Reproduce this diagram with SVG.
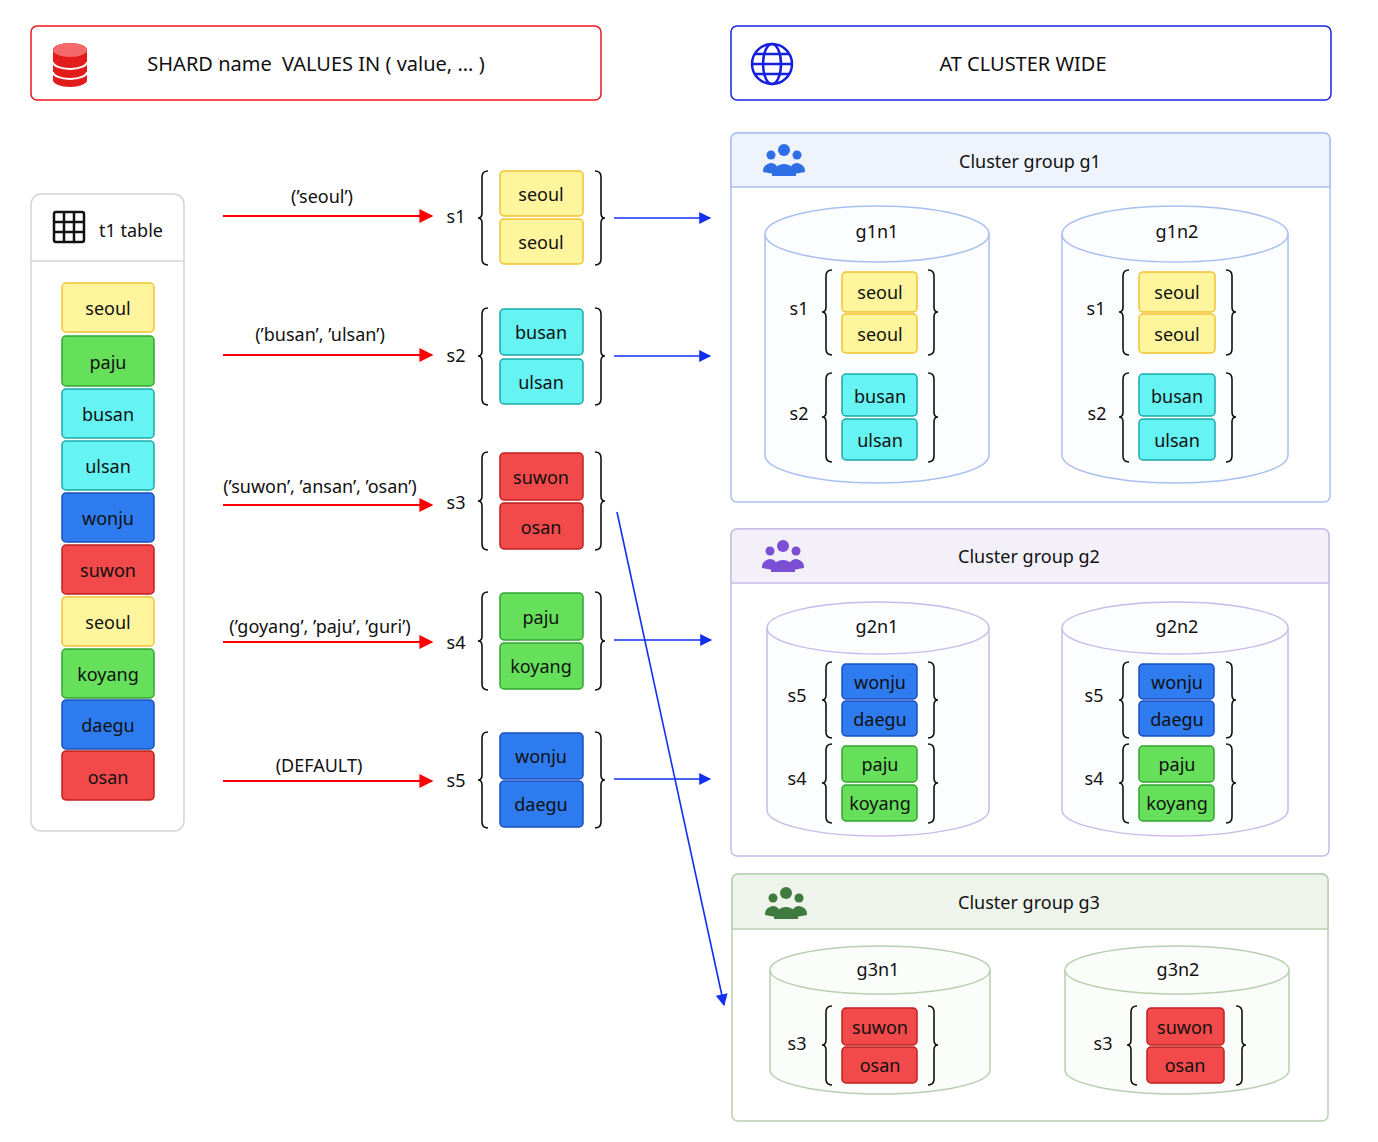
<svg xmlns="http://www.w3.org/2000/svg" width="1378" height="1142" viewBox="0 0 1378 1142">
<style>
text{font-family:"Noto Sans","DejaVu Sans",sans-serif;fill:#111;font-size:18px;text-anchor:middle;dominant-baseline:central}
.h{font-size:20px}
.y{fill:#fff59d;stroke:#f2c230;stroke-width:1.5}
.g{fill:#66e05a;stroke:#2fa52f;stroke-width:1.5}
.c{fill:#66f3f3;stroke:#1aa9a9;stroke-width:1.5}
.b{fill:#2f7cf0;stroke:#1a4fc0;stroke-width:1.5}
.r{fill:#f24a4a;stroke:#c01f1f;stroke-width:1.5}
.br{fill:none;stroke:#111;stroke-width:1.6}
.red{stroke:#f00;stroke-width:2;fill:none}
.blue{stroke:#1330f0;stroke-width:1.6;fill:none}
.cyl{fill:#fcfdff;stroke:#a8c0f0;stroke-width:1.5}
</style>
<defs>
<marker id="ab" viewBox="0 0 10 10" refX="9" refY="5" markerWidth="14" markerHeight="12" orient="auto" markerUnits="userSpaceOnUse"><path d="M0,0L10,5L0,10Z" fill="#1330f0"/></marker>
<marker id="arr" viewBox="0 0 10 10" refX="9" refY="5" markerWidth="16" markerHeight="14" orient="auto" markerUnits="userSpaceOnUse"><path d="M0,0L10,5L0,10Z" fill="#f00"/></marker>
</defs>
<rect width="1378" height="1142" fill="#fff"/>

<g id="header-shard">
<rect x="31" y="26" width="570" height="74" rx="6" fill="#fff" stroke="#f0141e" stroke-width="1.5"/>
<g fill="#e21b1b"><path d="M53,50 a17,7 0 0 1 34,0 v30 a17,7 0 0 1 -34,0Z"/></g>
<path d="M53,62 a17,7 0 0 0 34,0 M53,72 a17,7 0 0 0 34,0" stroke="#fff" stroke-width="2" fill="none"/>
<ellipse cx="70" cy="50" rx="17" ry="7" fill="#f46a6a"/>
<text class="h" x="316" y="63">SHARD name&#160; VALUES IN ( value, ... )</text>
</g>
<g id="header-cluster">
<rect x="731" y="26" width="600" height="74" rx="6" fill="#fff" stroke="#1a22e0" stroke-width="1.5"/>
<g fill="none" stroke="#1320e0" stroke-width="2.5"><circle cx="772" cy="64" r="20"/><ellipse cx="772" cy="64" rx="9" ry="20"/><path d="M752,64H792M755,54H789M755,74H789"/></g>
<text class="h" x="1023" y="63">AT CLUSTER WIDE</text>
</g>

<g id="t1-table">
<rect x="31" y="194" width="153" height="637" rx="10" fill="#fff" stroke="#d4d4d4" stroke-width="1.5"/>
<line x1="31" y1="261" x2="184" y2="261" stroke="#d4d4d4" stroke-width="1.5"/>
<g fill="none" stroke="#111" stroke-width="2.5"><rect x="54" y="212" width="30" height="30" rx="2"/><path d="M54,222H84M54,232H84M64,212V242M74,212V242"/></g>
<text x="131" y="230">t1 table</text>
<rect class="y" x="62" y="283" width="92" height="49" rx="4"/><text x="108" y="308">seoul</text>
<rect class="g" x="62" y="336" width="92" height="50" rx="4"/><text x="108" y="362">paju</text>
<rect class="c" x="62" y="389" width="92" height="49" rx="4"/><text x="108" y="414">busan</text>
<rect class="c" x="62" y="441" width="92" height="49" rx="4"/><text x="108" y="466">ulsan</text>
<rect class="b" x="62" y="493" width="92" height="49" rx="4"/><text x="108" y="518">wonju</text>
<rect class="r" x="62" y="545" width="92" height="49" rx="4"/><text x="108" y="570">suwon</text>
<rect class="y" x="62" y="597" width="92" height="49" rx="4"/><text x="108" y="622">seoul</text>
<rect class="g" x="62" y="649" width="92" height="49" rx="4"/><text x="108" y="674">koyang</text>
<rect class="b" x="62" y="700" width="92" height="49" rx="4"/><text x="108" y="725">daegu</text>
<rect class="r" x="62" y="751" width="92" height="49" rx="4"/><text x="108" y="777">osan</text>
</g>

<g id="shards">
<text x="456" y="216">s1</text>
<path class="br" d="M488,171 Q482,171 482,177 V213 Q482,218 478,218 Q482,218 482,223 V259 Q482,265 488,265"/>
<path class="br" d="M595,171 Q601,171 601,177 V213 Q601,218 605,218 Q601,218 601,223 V259 Q601,265 595,265"/>
<rect class="y" x="500" y="171" width="83" height="45" rx="4"/><text x="541" y="194">seoul</text>
<rect class="y" x="500" y="219" width="83" height="45" rx="4"/><text x="541" y="242">seoul</text>

<text x="456" y="355">s2</text>
<path class="br" d="M488,308 Q482,308 482,314 V351 Q482,356 478,356 Q482,356 482,361 V399 Q482,405 488,405"/>
<path class="br" d="M595,308 Q601,308 601,314 V351 Q601,356 605,356 Q601,356 601,361 V399 Q601,405 595,405"/>
<rect class="c" x="500" y="309" width="83" height="46" rx="4"/><text x="541" y="332">busan</text>
<rect class="c" x="500" y="359" width="83" height="45" rx="4"/><text x="541" y="382">ulsan</text>

<text x="456" y="502">s3</text>
<path class="br" d="M488,452 Q482,452 482,458 V496 Q482,501 478,501 Q482,501 482,506 V544 Q482,550 488,550"/>
<path class="br" d="M595,452 Q601,452 601,458 V496 Q601,501 605,501 Q601,501 601,506 V544 Q601,550 595,550"/>
<rect class="r" x="500" y="453" width="83" height="47" rx="4"/><text x="541" y="477">suwon</text>
<rect class="r" x="500" y="503" width="83" height="46" rx="4"/><text x="541" y="527">osan</text>

<text x="456" y="642">s4</text>
<path class="br" d="M488,592 Q482,592 482,598 V636 Q482,641 478,641 Q482,641 482,646 V684 Q482,690 488,690"/>
<path class="br" d="M595,592 Q601,592 601,598 V636 Q601,641 605,641 Q601,641 601,646 V684 Q601,690 595,690"/>
<rect class="g" x="500" y="593" width="83" height="47" rx="4"/><text x="541" y="617">paju</text>
<rect class="g" x="500" y="643" width="83" height="46" rx="4"/><text x="541" y="666">koyang</text>

<text x="456" y="780">s5</text>
<path class="br" d="M488,732 Q482,732 482,738 V775 Q482,780 478,780 Q482,780 482,785 V822 Q482,828 488,828"/>
<path class="br" d="M595,732 Q601,732 601,738 V775 Q601,780 605,780 Q601,780 601,785 V822 Q601,828 595,828"/>
<rect class="b" x="500" y="733" width="83" height="46" rx="4"/><text x="541" y="756">wonju</text>
<rect class="b" x="500" y="781" width="83" height="46" rx="4"/><text x="541" y="804">daegu</text>
</g>

<g id="connectors">
<line class="red" x1="223" y1="216" x2="432" y2="216" marker-end="url(#arr)"/>
<line class="red" x1="223" y1="355" x2="432" y2="355" marker-end="url(#arr)"/>
<line class="red" x1="223" y1="505" x2="432" y2="505" marker-end="url(#arr)"/>
<line class="red" x1="223" y1="642" x2="432" y2="642" marker-end="url(#arr)"/>
<line class="red" x1="223" y1="781" x2="432" y2="781" marker-end="url(#arr)"/>
<text x="322" y="196">(’seoul’)</text>
<text x="320" y="334">(’busan’, ’ulsan’)</text>
<text x="320" y="486">(’suwon’, ’ansan’, ’osan’)</text>
<text x="320" y="626">(’goyang’, ’paju’, ’guri’)</text>
<text x="319" y="765">(DEFAULT)</text>
<line class="blue" x1="614" y1="218" x2="710" y2="218" marker-end="url(#ab)"/>
<line class="blue" x1="614" y1="356" x2="710" y2="356" marker-end="url(#ab)"/>
<line class="blue" x1="614" y1="640" x2="711" y2="640" marker-end="url(#ab)"/>
<line class="blue" x1="614" y1="779" x2="710" y2="779" marker-end="url(#ab)"/>
<line class="blue" x1="617" y1="512" x2="724" y2="1005" marker-end="url(#ab)"/>
</g>

<g id="group-g1">
<rect x="731" y="133" width="599" height="369" rx="6" fill="#fff" stroke="#a8c0f0" stroke-width="1.5"/>
<path d="M731,187V139a6,6 0 0 1 6,-6H1324a6,6 0 0 1 6,6V187Z" fill="#eef3fc" stroke="#a8c0f0" stroke-width="1.5"/>
<g fill="#2f6fe6"><circle cx="784" cy="150" r="6"/><circle cx="771" cy="155" r="4.5"/><circle cx="797" cy="155" r="4.5"/><path d="M772,176a12,12 0 0 1 24,0Z"/><path d="M763,172a8,8 0 0 1 14,-6 l-3,8Z"/><path d="M805,172a8,8 0 0 0 -14,-6 l3,8Z"/></g>
<text x="1030" y="161">Cluster group g1</text>
</g>
<g id="g1n1">
<path class="cyl" d="M765,234 V455 A112,28 0 0 0 989,455 V234"/>
<ellipse class="cyl" cx="877" cy="234" rx="112" ry="28"/>
<text x="877" y="231">g1n1</text>
<text x="799" y="308">s1</text><text x="799" y="413">s2</text>
<path class="br" d="M832,270 Q826,270 826,276 V307 Q826,312 822,312 Q826,312 826,317 V349 Q826,355 832,355"/>
<path class="br" d="M928,270 Q934,270 934,276 V307 Q934,312 938,312 Q934,312 934,317 V349 Q934,355 928,355"/>
<path class="br" d="M832,373 Q826,373 826,379 V412 Q826,417 822,417 Q826,417 826,422 V456 Q826,462 832,462"/>
<path class="br" d="M928,373 Q934,373 934,379 V412 Q934,417 938,417 Q934,417 934,422 V456 Q934,462 928,462"/>
<rect class="y" x="842" y="272" width="75" height="40" rx="4"/><text x="880" y="292">seoul</text>
<rect class="y" x="842" y="314" width="75" height="39" rx="4"/><text x="880" y="334">seoul</text>
<rect class="c" x="842" y="374" width="75" height="42" rx="4"/><text x="880" y="396">busan</text>
<rect class="c" x="842" y="419" width="75" height="41" rx="4"/><text x="880" y="440">ulsan</text>
</g>
<g id="g1n2">
<path class="cyl" d="M1062,234 V455 A113,28 0 0 0 1288,455 V234"/>
<ellipse class="cyl" cx="1175" cy="234" rx="113" ry="28"/>
<text x="1177" y="231">g1n2</text>
<text x="1096" y="308">s1</text><text x="1097" y="413">s2</text>
<path class="br" d="M1129,270 Q1123,270 1123,276 V307 Q1123,312 1119,312 Q1123,312 1123,317 V349 Q1123,355 1129,355"/>
<path class="br" d="M1226,270 Q1232,270 1232,276 V307 Q1232,312 1236,312 Q1232,312 1232,317 V349 Q1232,355 1226,355"/>
<path class="br" d="M1129,373 Q1123,373 1123,379 V412 Q1123,417 1119,417 Q1123,417 1123,422 V456 Q1123,462 1129,462"/>
<path class="br" d="M1226,373 Q1232,373 1232,379 V412 Q1232,417 1236,417 Q1232,417 1232,422 V456 Q1232,462 1226,462"/>
<rect class="y" x="1139" y="272" width="76" height="40" rx="4"/><text x="1177" y="292">seoul</text>
<rect class="y" x="1139" y="314" width="76" height="39" rx="4"/><text x="1177" y="334">seoul</text>
<rect class="c" x="1139" y="374" width="76" height="42" rx="4"/><text x="1177" y="396">busan</text>
<rect class="c" x="1139" y="419" width="76" height="41" rx="4"/><text x="1177" y="440">ulsan</text>
</g>

<g id="group-g2">
<rect x="731" y="529" width="598" height="327" rx="6" fill="#fff" stroke="#c8bce8" stroke-width="1.5"/>
<path d="M731,583V535a6,6 0 0 1 6,-6H1323a6,6 0 0 1 6,6V583Z" fill="#f3f0fa" stroke="#c8bce8" stroke-width="1.5"/>
<g fill="#7a4fd6"><circle cx="783" cy="546" r="6"/><circle cx="770" cy="551" r="4.5"/><circle cx="796" cy="551" r="4.5"/><path d="M771,572a12,12 0 0 1 24,0Z"/><path d="M762,568a8,8 0 0 1 14,-6 l-3,8Z"/><path d="M804,568a8,8 0 0 0 -14,-6 l3,8Z"/></g>
<text x="1029" y="556">Cluster group g2</text>
</g>
<g id="g2n1">
<path class="cyl" style="stroke:#c8bce8" d="M767,628 V810 A111,26 0 0 0 989,810 V628"/>
<ellipse class="cyl" style="stroke:#c8bce8" cx="878" cy="628" rx="111" ry="26"/>
<text x="877" y="626">g2n1</text>
<text x="797" y="695">s5</text><text x="797" y="778">s4</text>
<path class="br" d="M832,662 Q826,662 826,668 V695 Q826,700 822,700 Q826,700 826,705 V732 Q826,738 832,738"/>
<path class="br" d="M928,662 Q934,662 934,668 V695 Q934,700 938,700 Q934,700 934,705 V732 Q934,738 928,738"/>
<path class="br" d="M832,744 Q826,744 826,750 V778 Q826,783 822,783 Q826,783 826,788 V817 Q826,823 832,823"/>
<path class="br" d="M928,744 Q934,744 934,750 V778 Q934,783 938,783 Q934,783 934,788 V817 Q934,823 928,823"/>
<rect class="b" x="842" y="664" width="75" height="35" rx="4"/><text x="880" y="682">wonju</text>
<rect class="b" x="842" y="701" width="75" height="35" rx="4"/><text x="880" y="719">daegu</text>
<rect class="g" x="842" y="746" width="75" height="36" rx="4"/><text x="880" y="764">paju</text>
<rect class="g" x="842" y="785" width="75" height="36" rx="4"/><text x="880" y="803">koyang</text>
</g>
<g id="g2n2">
<path class="cyl" style="stroke:#c8bce8" d="M1062,628 V810 A113,26 0 0 0 1288,810 V628"/>
<ellipse class="cyl" style="stroke:#c8bce8" cx="1175" cy="628" rx="113" ry="26"/>
<text x="1177" y="626">g2n2</text>
<text x="1094" y="695">s5</text><text x="1094" y="778">s4</text>
<path class="br" d="M1129,662 Q1123,662 1123,668 V695 Q1123,700 1119,700 Q1123,700 1123,705 V732 Q1123,738 1129,738"/>
<path class="br" d="M1226,662 Q1232,662 1232,668 V695 Q1232,700 1236,700 Q1232,700 1232,705 V732 Q1232,738 1226,738"/>
<path class="br" d="M1129,744 Q1123,744 1123,750 V778 Q1123,783 1119,783 Q1123,783 1123,788 V817 Q1123,823 1129,823"/>
<path class="br" d="M1226,744 Q1232,744 1232,750 V778 Q1232,783 1236,783 Q1232,783 1232,788 V817 Q1232,823 1226,823"/>
<rect class="b" x="1139" y="664" width="75" height="35" rx="4"/><text x="1177" y="682">wonju</text>
<rect class="b" x="1139" y="701" width="75" height="35" rx="4"/><text x="1177" y="719">daegu</text>
<rect class="g" x="1139" y="746" width="75" height="36" rx="4"/><text x="1177" y="764">paju</text>
<rect class="g" x="1139" y="785" width="75" height="36" rx="4"/><text x="1177" y="803">koyang</text>
</g>

<g id="group-g3">
<rect x="732" y="874" width="596" height="247" rx="6" fill="#fff" stroke="#b8d0b0" stroke-width="1.5"/>
<path d="M732,929V880a6,6 0 0 1 6,-6H1322a6,6 0 0 1 6,6V929Z" fill="#eef4ec" stroke="#b8d0b0" stroke-width="1.5"/>
<g fill="#3f7a3f"><circle cx="786" cy="893" r="6"/><circle cx="773" cy="898" r="4.5"/><circle cx="799" cy="898" r="4.5"/><path d="M774,919a12,12 0 0 1 24,0Z"/><path d="M765,915a8,8 0 0 1 14,-6 l-3,8Z"/><path d="M807,915a8,8 0 0 0 -14,-6 l3,8Z"/></g>
<text x="1029" y="902">Cluster group g3</text>
</g>
<g id="g3n1">
<path class="cyl" style="stroke:#b8d0b0;fill:#fbfdfa" d="M770,970 V1070 A110,24 0 0 0 990,1070 V970"/>
<ellipse class="cyl" style="stroke:#b8d0b0;fill:#fbfdfa" cx="880" cy="970" rx="110" ry="24"/>
<text x="878" y="969">g3n1</text>
<text x="797" y="1043">s3</text>
<path class="br" d="M832,1006 Q826,1006 826,1012 V1040 Q826,1045 822,1045 Q826,1045 826,1050 V1079 Q826,1085 832,1085"/>
<path class="br" d="M928,1006 Q934,1006 934,1012 V1040 Q934,1045 938,1045 Q934,1045 934,1050 V1079 Q934,1085 928,1085"/>
<rect class="r" x="842" y="1008" width="75" height="37" rx="4"/><text x="880" y="1027">suwon</text>
<rect class="r" x="842" y="1047" width="75" height="36" rx="4"/><text x="880" y="1065">osan</text>
</g>
<g id="g3n2">
<path class="cyl" style="stroke:#b8d0b0;fill:#fbfdfa" d="M1065,970 V1070 A112,24 0 0 0 1289,1070 V970"/>
<ellipse class="cyl" style="stroke:#b8d0b0;fill:#fbfdfa" cx="1177" cy="970" rx="112" ry="24"/>
<text x="1178" y="969">g3n2</text>
<text x="1103" y="1043">s3</text>
<path class="br" d="M1137,1006 Q1131,1006 1131,1012 V1040 Q1131,1045 1127,1045 Q1131,1045 1131,1050 V1079 Q1131,1085 1137,1085"/>
<path class="br" d="M1236,1006 Q1242,1006 1242,1012 V1040 Q1242,1045 1246,1045 Q1242,1045 1242,1050 V1079 Q1242,1085 1236,1085"/>
<rect class="r" x="1147" y="1008" width="77" height="37" rx="4"/><text x="1185" y="1027">suwon</text>
<rect class="r" x="1147" y="1047" width="77" height="36" rx="4"/><text x="1185" y="1065">osan</text>
</g>
</svg>
